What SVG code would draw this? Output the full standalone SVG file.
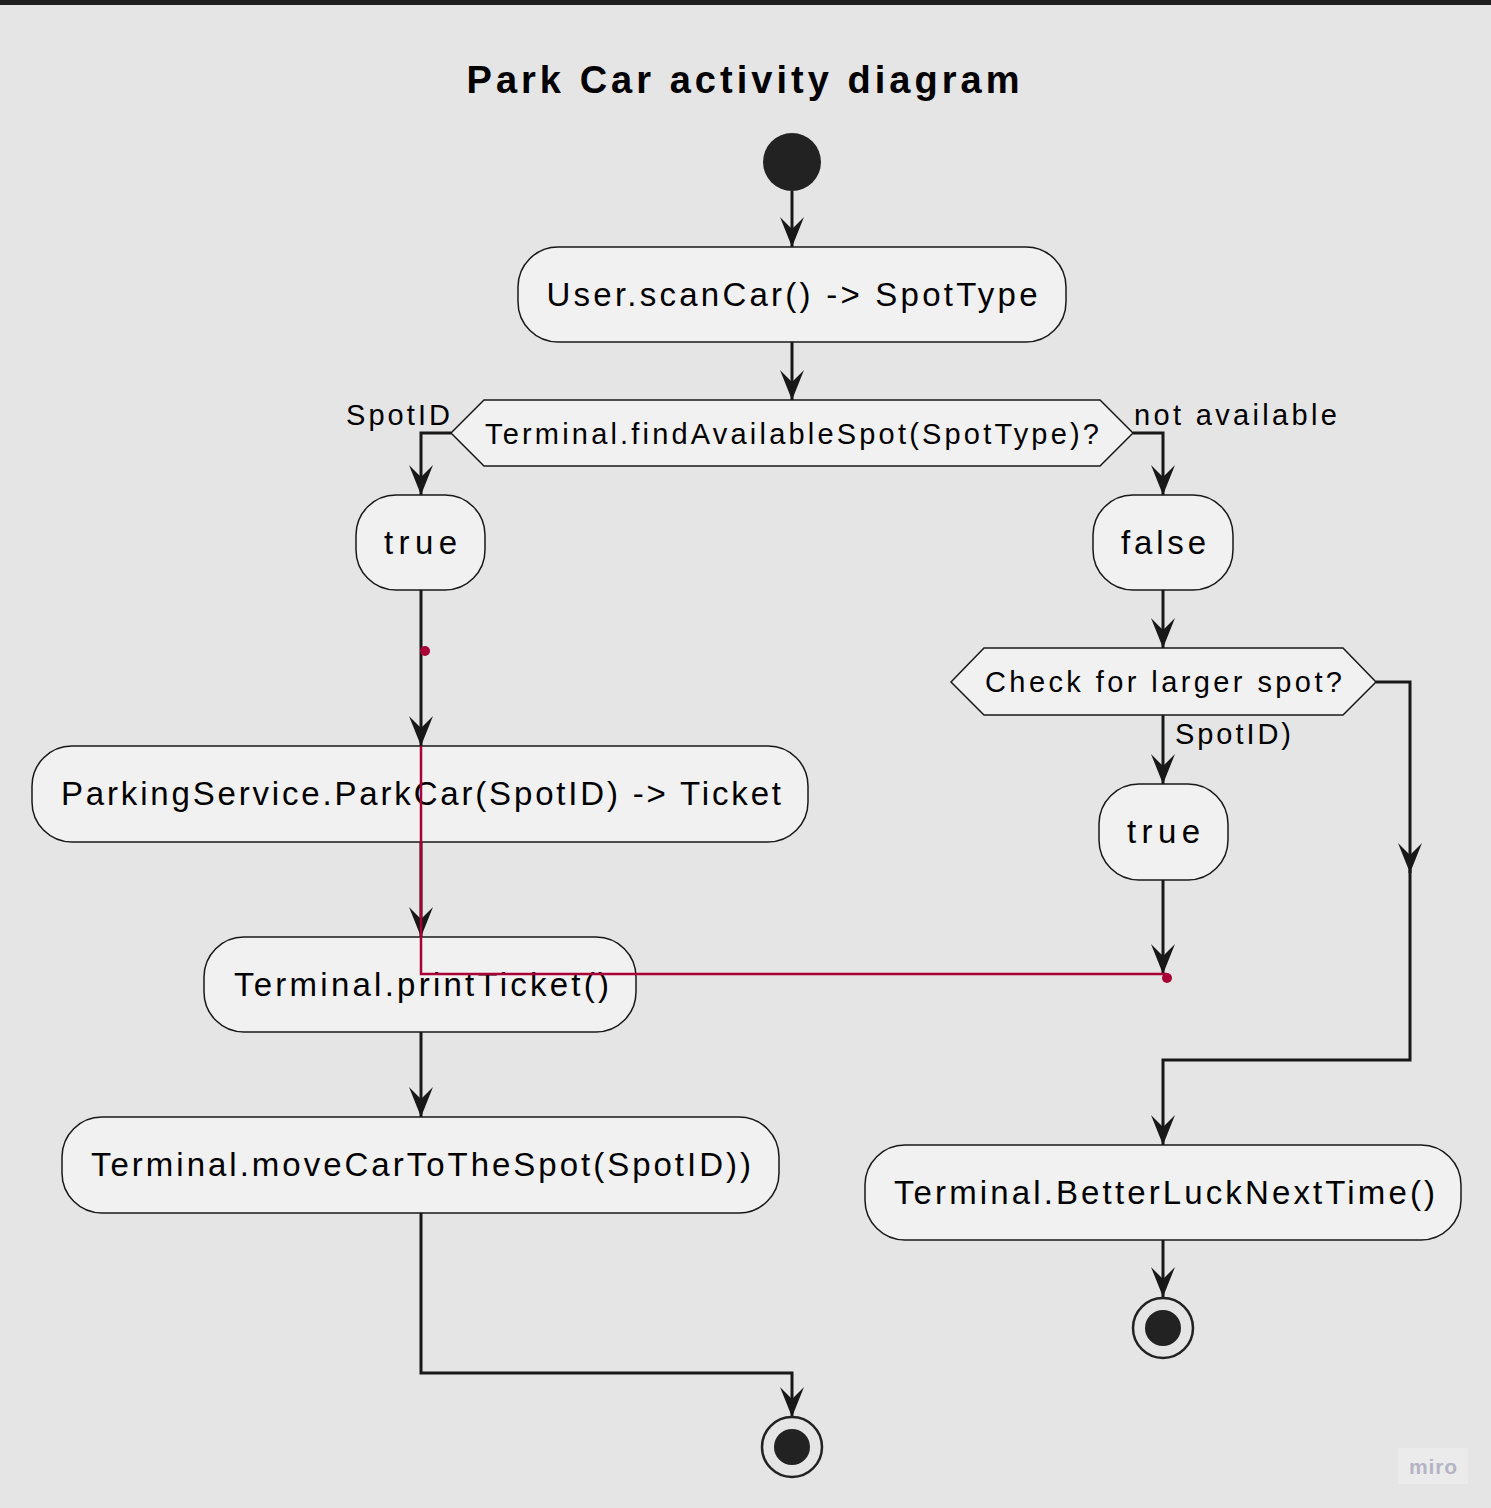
<svg xmlns="http://www.w3.org/2000/svg" width="1491" height="1508" viewBox="0 0 1491 1508">
<defs>
<style>
.bg{fill:#e5e5e5}
.node{fill:#f1f1f1;stroke:#181818;stroke-width:1.5}
.t{font-family:"Liberation Sans",Arial,sans-serif;fill:#000;text-anchor:middle}
.n{font-size:33px}
.d{font-size:29px}
.lbl{font-family:"Liberation Sans",Arial,sans-serif;fill:#000;font-size:29px}
.edge{fill:none;stroke:#181818;stroke-width:3}
.red{fill:none;stroke:#a80036;stroke-width:2.5}
</style>
<marker id="arr" markerUnits="userSpaceOnUse" markerWidth="32" markerHeight="26" viewBox="0 0 32 26" refX="30" refY="13" orient="auto">
<path d="M0,1 L30,13 L0,25 L12,13 Z" fill="#181818"/>
</marker>
</defs>
<rect class="bg" x="0" y="0" width="1491" height="1508"/>
<rect x="0" y="0" width="1491" height="5" fill="#1e1e1e"/>
<text x="743" y="93" font-family="Liberation Sans,Arial,sans-serif" font-weight="bold" font-size="38" text-anchor="middle" textLength="553" lengthAdjust="spacing">Park Car activity diagram</text>

<g id="connectors">
<path class="edge" d="M792,191 V247" marker-end="url(#arr)"/>
<path class="edge" d="M792,342 V400" marker-end="url(#arr)"/>
<path class="edge" d="M451,433 H421 V495" marker-end="url(#arr)"/>
<path class="edge" d="M1133,433 H1163 V495" marker-end="url(#arr)"/>
<path class="edge" d="M421,590 V746" marker-end="url(#arr)"/>
<path class="edge" d="M421,842 V937" marker-end="url(#arr)"/>
<path class="edge" d="M421,1032 V1117" marker-end="url(#arr)"/>
<path class="edge" d="M421,1213 V1373 H792 V1417" marker-end="url(#arr)"/>
<path class="edge" d="M1163,590 V648" marker-end="url(#arr)"/>
<path class="edge" d="M1163,715 V784" marker-end="url(#arr)"/>
<path class="edge" d="M1163,880 V974" marker-end="url(#arr)"/>
<path class="edge" d="M1376,682 H1410 V873" marker-end="url(#arr)"/>
<path class="edge" d="M1410,870 V1060 H1163 V1145" marker-end="url(#arr)"/>
<path class="edge" d="M1163,1240 V1297" marker-end="url(#arr)"/>
<text class="lbl" x="346" y="425" textLength="104" lengthAdjust="spacing">SpotID</text>
<text class="lbl" x="1134" y="425" textLength="203" lengthAdjust="spacing">not available</text>
<text class="lbl" x="1175" y="744" textLength="116" lengthAdjust="spacing">SpotID)</text>
</g>

<g id="start"><circle cx="792" cy="162" r="29" fill="#222"/></g>

<g id="scanCar">
<rect class="node" x="518" y="247" width="548" height="95" rx="40"/>
<text class="t n" x="792" y="306" textLength="491" lengthAdjust="spacing">User.scanCar() -&gt; SpotType</text>
</g>

<g id="decision1">
<polygon class="node" points="451,433 484,400 1100,400 1133,433 1100,466 484,466"/>
<text class="t d" x="792" y="444" textLength="614" lengthAdjust="spacing">Terminal.findAvailableSpot(SpotType)?</text>
</g>

<g id="trueLeft">
<rect class="node" x="356" y="495" width="129" height="95" rx="40"/>
<text class="t n" x="420.5" y="554" textLength="73" lengthAdjust="spacing">true</text>
</g>

<g id="falseRight">
<rect class="node" x="1093" y="495" width="140" height="95" rx="40"/>
<text class="t n" x="1163.5" y="554" textLength="85" lengthAdjust="spacing">false</text>
</g>

<g id="parkCar">
<rect class="node" x="32" y="746" width="776" height="96" rx="40"/>
<text class="t n" x="421" y="805" textLength="720" lengthAdjust="spacing">ParkingService.ParkCar(SpotID) -&gt; Ticket</text>
</g>

<g id="printTicket">
<rect class="node" x="204" y="937" width="432" height="95" rx="40"/>
<text class="t n" x="421.5" y="996" textLength="375" lengthAdjust="spacing">Terminal.printTicket()</text>
</g>

<g id="moveCar">
<rect class="node" x="62" y="1117" width="717" height="96" rx="40"/>
<text class="t n" x="421" y="1176" textLength="660" lengthAdjust="spacing">Terminal.moveCarToTheSpot(SpotID))</text>
</g>

<g id="decision2">
<polygon class="node" points="951,682 984,648 1343,648 1376,682 1343,715 984,715"/>
<text class="t d" x="1163.5" y="692" textLength="357" lengthAdjust="spacing">Check for larger spot?</text>
</g>

<g id="trueRight">
<rect class="node" x="1099" y="784" width="129" height="96" rx="40"/>
<text class="t n" x="1163.5" y="843" textLength="73" lengthAdjust="spacing">true</text>
</g>

<g id="betterLuck">
<rect class="node" x="865" y="1145" width="596" height="95" rx="40"/>
<text class="t n" x="1164.5" y="1204" textLength="541" lengthAdjust="spacing">Terminal.BetterLuckNextTime()</text>
</g>

<g id="end1">
<circle cx="792" cy="1447" r="30" fill="none" stroke="#222" stroke-width="2.5"/>
<circle cx="792" cy="1447" r="18" fill="#222"/>
</g>

<g id="end2">
<circle cx="1163" cy="1328" r="30" fill="none" stroke="#222" stroke-width="2.5"/>
<circle cx="1163" cy="1328" r="18" fill="#222"/>
</g>

<g id="redTrace">
<path class="red" d="M421,746 V974 H1167"/>
<circle cx="425" cy="651" r="5" fill="#a80036"/>
<circle cx="1167" cy="978" r="5" fill="#a80036"/>
</g>

<g id="watermark">
<rect x="1398" y="1448" width="70" height="36" fill="#ebebeb"/>
<text x="1433" y="1474" font-family="Liberation Sans,Arial,sans-serif" font-size="21" font-weight="bold" fill="#b4b4c4" text-anchor="middle" textLength="48" lengthAdjust="spacing">miro</text>
</g>
</svg>
